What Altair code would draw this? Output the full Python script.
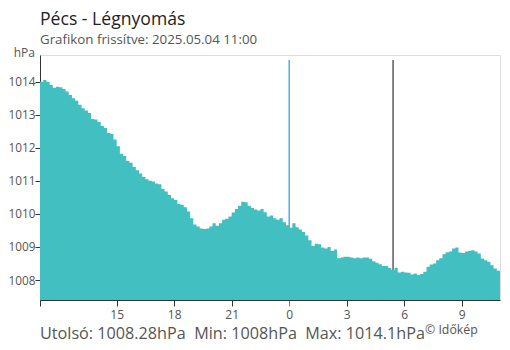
import altair as alt
import pandas as pd

# hourly offsets from 11:00 (2025.05.03) in 10-minute steps
pressure = [
    1014.0, 1014.05, 1014.0, 1013.9, 1013.82, 1013.85, 1013.83, 1013.78, 1013.7, 1013.6,
    1013.5, 1013.42, 1013.3, 1013.2, 1013.13, 1013.05, 1012.87, 1012.86, 1012.78, 1012.66,
    1012.6, 1012.45, 1012.42, 1012.25, 1012.05, 1011.82, 1011.75, 1011.6, 1011.55, 1011.42,
    1011.32, 1011.22, 1011.12, 1011.05, 1011.0, 1010.98, 1010.92, 1010.9, 1010.75, 1010.68,
    1010.57, 1010.47, 1010.42, 1010.3, 1010.28, 1010.2, 1010.07, 1009.87, 1009.68, 1009.62,
    1009.56, 1009.54, 1009.56, 1009.62, 1009.72, 1009.64, 1009.72, 1009.82, 1009.85, 1009.92,
    1010.04, 1010.15, 1010.25, 1010.37, 1010.35, 1010.25, 1010.18, 1010.13, 1010.1, 1010.15,
    1010.05, 1009.92, 1009.95, 1009.87, 1009.82, 1009.87, 1009.75, 1009.66, 1009.58, 1009.72,
    1009.6, 1009.53, 1009.45, 1009.35, 1009.2, 1009.03, 1009.1, 1009.08, 1008.98, 1008.95,
    1009.0, 1008.88, 1008.92, 1008.66, 1008.68, 1008.7, 1008.7, 1008.68, 1008.66, 1008.68,
    1008.66, 1008.68, 1008.68, 1008.64, 1008.57, 1008.52, 1008.48, 1008.42, 1008.42, 1008.36,
    1008.3, 1008.37, 1008.23, 1008.25, 1008.23, 1008.22, 1008.17, 1008.2, 1008.15, 1008.18,
    1008.25, 1008.4, 1008.47, 1008.5, 1008.6, 1008.66, 1008.78, 1008.84, 1008.86, 1008.95,
    1008.98, 1008.83, 1008.82, 1008.86, 1008.88, 1008.9, 1008.86, 1008.8, 1008.65, 1008.6,
    1008.55, 1008.45, 1008.35, 1008.28,
]
start_hour = 11
step_hours = 1 / 6
x_ticks = [0, 4, 7, 10, 13, 16, 19, 22]
y_ticks = [1008, 1009, 1010, 1011, 1012, 1013, 1014]
y_domain = [1007.395, 1014.808]
midnight = [13]
sunrise = [18.42]

title = "Pécs - Légnyomás"
subtitle = "Grafikon frissítve: 2025.05.04 11:00"
footer = "Utolsó: 1008.28hPa\u00a0 Min: 1008hPa\u00a0 Max: 1014.1hPa"
credit = "© Időkép"
unit = "hPa"

FONT = "Open Sans"
BAR = "#41bfc1"
BLUE = "#2196e0"
DARK = "#333333"
GRAY = "#555555"

hours = [i * step_hours for i in range(len(pressure))] + [len(pressure) * step_hours]
vals = pressure + [pressure[-1]]
df = pd.DataFrame({"h": hours, "p": vals})

W, H = 460, 245

xscale = alt.Scale(domain=[0, 24], nice=False, zero=False)
yscale = alt.Scale(domain=y_domain, nice=False, zero=False)

area = alt.Chart(df).mark_area(interpolate="step-after", color=BAR, opacity=1).encode(
    x=alt.X("h:Q", scale=xscale, axis=alt.Axis(
        values=x_ticks, title=None, grid=False,
        labelExpr=f"datum.value == 0 ? '' : '' + ((datum.value + {start_hour}) % 24)",
        tickColor={"condition": {"test": "datum.value == 13", "value": BLUE}, "value": DARK},
        domainColor=DARK, tickSize=6, labelPadding=3, labelFontSize=12,
        labelColor=GRAY, labelFont=FONT, labelFlush=False)),
    y=alt.Y("p:Q", scale=yscale, axis=alt.Axis(
        values=y_ticks, format="d", title=None, grid=False, domainColor=DARK, tickColor=DARK,
        tickSize=5, labelPadding=0, labelFontSize=11.8, labelColor=GRAY, labelFont=FONT)),
    y2=alt.datum(y_domain[0]),
)

rule_mid = alt.Chart(pd.DataFrame({"h": midnight})).mark_rule(color=BLUE, strokeWidth=1.2).encode(
    x=alt.X("h:Q", scale=xscale), y=alt.value(5), y2=alt.value(H))
rule_sun = alt.Chart(pd.DataFrame({"h": sunrise})).mark_rule(color=DARK, strokeWidth=1.2).encode(
    x=alt.X("h:Q", scale=xscale), y=alt.value(5), y2=alt.value(H))


def txt(s, x, y, size, color, align="left"):
    return alt.Chart(pd.DataFrame({"t": [s]})).mark_text(
        align=align, baseline="alphabetic", font=FONT, fontSize=size, color=color
    ).encode(x=alt.value(x), y=alt.value(y), text="t:N")


chart = alt.layer(
    rule_mid, rule_sun, area,
    txt(title, 0, -30, 17.6, "#222222"),
    txt(subtitle, 0, -11, 13.3, GRAY),
    txt(unit, -5, 2, 12, GRAY, "right"),
    txt(footer, 0, 283.5, 16.2, GRAY),
    txt(credit, 385, 279, 12.3, GRAY),
).properties(
    width=W, height=H,
    autosize=alt.AutoSizeParams(type="none"),
    padding={"left": 32, "top": 47, "right": 2, "bottom": 42},
).configure_view(stroke=None).configure(background="white")

chart.save("out.html", embed_options={"renderer": "svg", "actions": False})
